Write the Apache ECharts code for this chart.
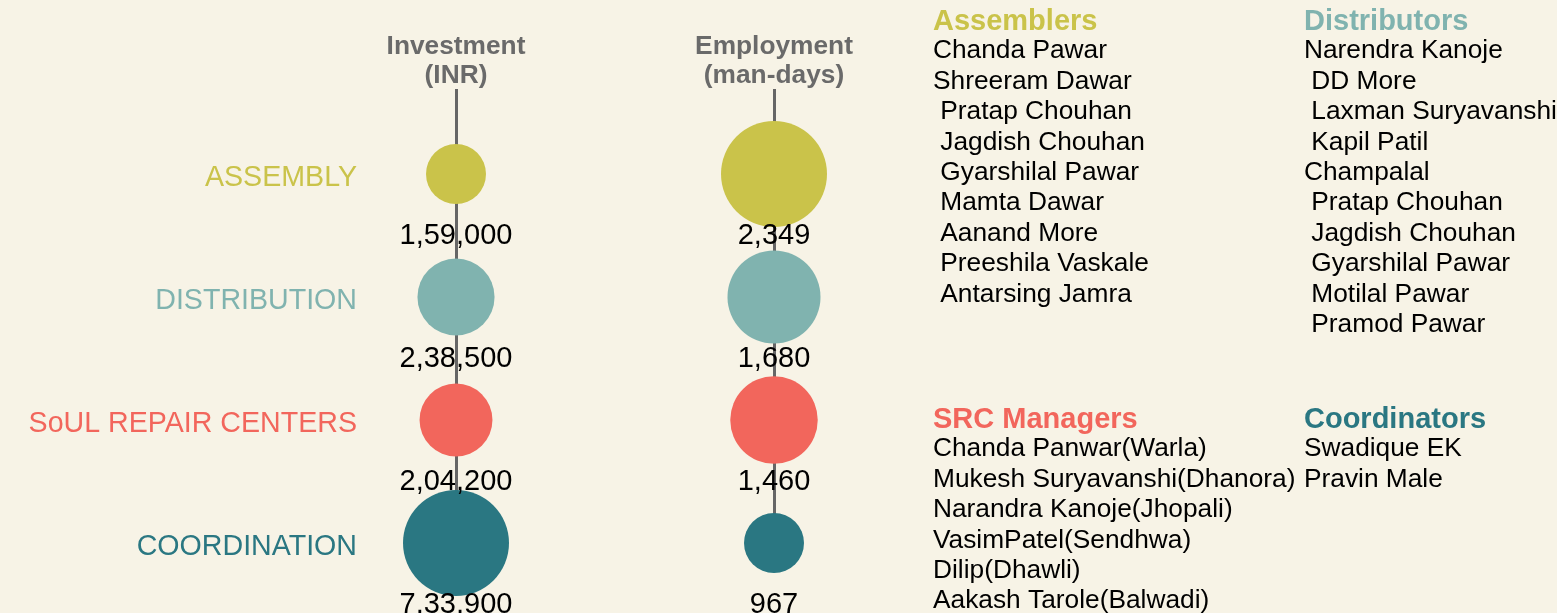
<!DOCTYPE html>
<html>
<head>
<meta charset="utf-8">
<script src="https://cdn.jsdelivr.net/npm/echarts@6/dist/echarts.min.js"></script>
<style>
  html, body { margin: 0; padding: 0; background: #F7F3E6; }
  #chart { width: 1557px; height: 613px; }
</style>
</head>
<body>
<div id="chart"></div>
<script>
// rows and columns
const activities = ['ASSEMBLY', 'DISTRIBUTION', 'SoUL REPAIR CENTERS', 'COORDINATION'];
const measures = ['Investment\n(INR)', 'Employment\n(man-days)'];
const investment = [159000, 238500, 204200, 733900];
const employment = [2349, 1680, 1460, 967];

// people lists
const assemblers = ['Chanda Pawar', 'Shreeram Dawar', ' Pratap Chouhan', ' Jagdish Chouhan',
  ' Gyarshilal Pawar', ' Mamta Dawar', ' Aanand More', ' Preeshila Vaskale', ' Antarsing Jamra'];
const distributors = ['Narendra Kanoje', ' DD More', ' Laxman Suryavanshi', ' Kapil Patil',
  'Champalal', ' Pratap Chouhan', ' Jagdish Chouhan', ' Gyarshilal Pawar', ' Motilal Pawar', ' Pramod Pawar'];
const srcManagers = ['Chanda Panwar(Warla)', 'Mukesh Suryavanshi(Dhanora)', 'Narandra Kanoje(Jhopali)',
  'VasimPatel(Sendhwa)', 'Dilip(Dhawli)', 'Aakash Tarole(Balwadi)'];
const coordinators = ['Swadique EK', 'Pravin Male'];

const rowColors = ['#CAC34A', '#80B3AF', '#F2665C', '#2A7782'];
const FONT = '"Liberation Sans", Arial, sans-serif';

// 1,59,000 style grouping
function indianFormat(n) {
  const s = String(Math.round(n));
  if (s.length <= 3) return s;
  const last3 = s.slice(-3);
  let rest = s.slice(0, -3);
  const parts = [];
  while (rest.length > 2) {
    parts.unshift(rest.slice(-2));
    rest = rest.slice(0, -2);
  }
  if (rest) parts.unshift(rest);
  return parts.join(',') + ',' + last3;
}

// bubble diameter: 60px at the column min, 106px at the column max (sqrt scale)
function sizer(values) {
  const min = Math.min(...values), max = Math.max(...values);
  return function (val) {
    return 60 + 46 * Math.sqrt((val[2] - min) / (max - min));
  };
}

function makeSeries(values, col) {
  return {
    type: 'scatter',
    data: values.map((v, i) => ({
      value: [col, i, v],
      itemStyle: { color: rowColors[i], opacity: 1 }
    })),
    symbolSize: sizer(values),
    label: {
      show: true,
      position: 'inside',
      offset: [0, 62],
      formatter: p => indianFormat(p.value[2]),
      color: '#000',
      fontSize: 29,
      fontFamily: FONT
    },
    emphasis: { disabled: true }
  };
}

function textBlock(x, y, title, color, names) {
  return [
    {
      type: 'text', x: x, y: y,
      style: { text: title, fill: color, font: 'bold 29px ' + FONT, verticalAlign: 'middle' }
    },
    {
      type: 'text', x: x, y: y + 14,
      style: { text: names.join('\n'), fill: '#000', font: '26.3px ' + FONT, lineHeight: 30.4, verticalAlign: 'top' }
    }
  ];
}

const myChart = echarts.init(document.getElementById('chart'));

const option = {
  backgroundColor: '#F7F3E6',
  animation: false,
  grid: { left: 456, right: 783, top: 174, bottom: 70, containLabel: false },
  xAxis: {
    type: 'category',
    data: measures,
    position: 'top',
    boundaryGap: false,
    axisLine: { show: false },
    axisTick: { show: true, length: 85, lineStyle: { color: '#666', width: 3 } },
    splitLine: { show: true, lineStyle: { color: '#666', width: 3 } },
    axisLabel: {
      margin: 84,
      color: '#6A6A6A',
      fontSize: 26.3,
      fontWeight: 'bold',
      fontFamily: FONT,
      lineHeight: 29,
      interval: 0
    }
  },
  yAxis: {
    type: 'category',
    data: activities,
    inverse: true,
    boundaryGap: false,
    axisLine: { show: false },
    axisTick: { show: false },
    splitLine: { show: false },
    axisLabel: {
      margin: 99,
      fontSize: 28.6,
      fontFamily: FONT,
      interval: 0,
      verticalAlign: 'top',
      lineHeight: 8,
      color: (value, index) => rowColors[index]
    }
  },
  series: [makeSeries(investment, 0), makeSeries(employment, 1)],
  graphic: [
    ...textBlock(933, 22, 'Assemblers', rowColors[0], assemblers),
    ...textBlock(1304, 22, 'Distributors', rowColors[1], distributors),
    ...textBlock(933, 420, 'SRC Managers', rowColors[2], srcManagers),
    ...textBlock(1304, 420, 'Coordinators', rowColors[3], coordinators)
  ]
};

myChart.setOption(option);
window.addEventListener('resize', () => myChart.resize());
</script>
</body>
</html>
